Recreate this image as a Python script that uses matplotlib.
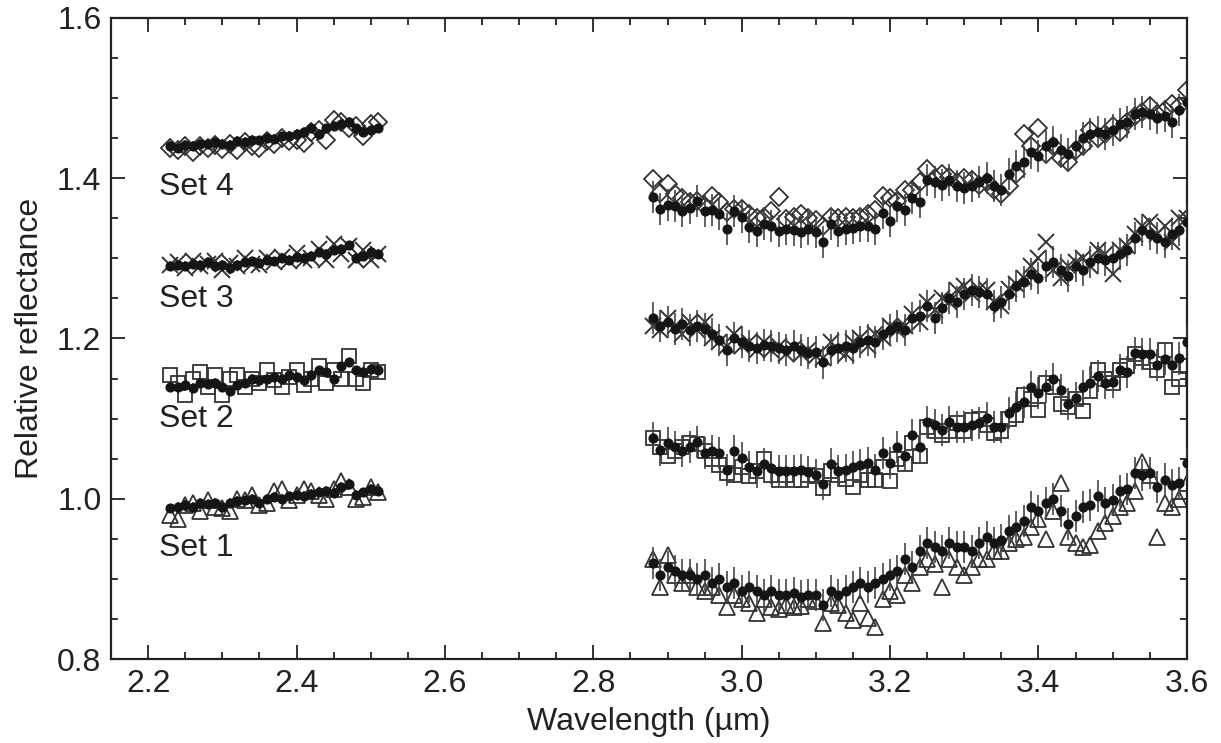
import numpy as np
import matplotlib
matplotlib.use("Agg")
import matplotlib.pyplot as plt

plt.rcParams['font.family'] = ['Liberation Sans', 'DejaVu Sans']

# wavelength grids (um)
wl_left = np.round(np.arange(2.23, 2.515, 0.01), 3)
wl_right = np.round(np.arange(2.88, 3.605, 0.01), 3)

# Set 1 -- filled dots (data) and open triangles
s1_dot_left = [0.988, 0.990, 0.992, 0.990, 0.995, 0.993, 0.995, 0.990, 0.995, 0.997,
               0.998, 1.000, 0.995, 1.000, 1.002, 1.000, 1.003, 1.005, 1.004, 1.006,
               1.008, 1.010, 1.007, 1.015, 1.018, 1.005, 1.008, 1.012, 1.010]
s1_open_left = [0.980, 0.975, 0.992, 0.995, 0.985, 0.998, 0.990, 0.988, 0.985, 1.000,
                0.998, 1.005, 0.992, 0.995, 1.010, 1.012, 0.998, 1.005, 1.012, 1.010,
                1.005, 1.000, 1.012, 1.022, 1.015, 1.000, 1.002, 1.015, 1.008]
s1_dot_right = [0.920, 0.905, 0.915, 0.910, 0.905, 0.905, 0.900, 0.905, 0.895, 0.900,
                0.890, 0.895, 0.885, 0.890, 0.885, 0.880, 0.885, 0.880, 0.880, 0.882,
                0.878, 0.880, 0.880, 0.868, 0.885, 0.880, 0.885, 0.890, 0.895, 0.890,
                0.895, 0.900, 0.905, 0.910, 0.925, 0.915, 0.935, 0.945, 0.940, 0.935,
                0.945, 0.940, 0.940, 0.935, 0.945, 0.952, 0.945, 0.948, 0.960, 0.965,
                0.972, 0.990, 0.985, 0.995, 1.000, 0.985, 0.968, 0.978, 0.990, 0.992,
                1.003, 0.995, 0.998, 1.010, 1.012, 1.032, 1.030, 1.032, 1.015, 1.024,
                1.017, 1.020, 1.045]
s1_open_right = [0.925, 0.890, 0.930, 0.905, 0.895, 0.905, 0.890, 0.885, 0.890, 0.880,
                 0.865, 0.880, 0.875, 0.870, 0.858, 0.875, 0.865, 0.862, 0.868, 0.865,
                 0.866, 0.875, 0.872, 0.845, 0.870, 0.868, 0.857, 0.849, 0.870, 0.851,
                 0.840, 0.875, 0.885, 0.880, 0.905, 0.895, 0.915, 0.925, 0.918, 0.890,
                 0.925, 0.915, 0.905, 0.915, 0.925, 0.925, 0.935, 0.935, 0.945, 0.950,
                 0.952, 0.965, 0.975, 0.950, 0.985, 1.020, 0.952, 0.945, 0.940, 0.942,
                 0.960, 0.970, 0.978, 0.990, 0.995, 1.010, 1.046, 1.030, 0.952, 0.995,
                 0.990, 1.000, 1.020]

# Set 2 -- open squares
s2_dot_left = [1.140, 1.140, 1.142, 1.138, 1.145, 1.143, 1.145, 1.140, 1.135, 1.142,
               1.145, 1.150, 1.148, 1.150, 1.152, 1.150, 1.155, 1.152, 1.148, 1.155,
               1.160, 1.158, 1.150, 1.165, 1.170, 1.160, 1.158, 1.162, 1.160]
s2_open_left = [1.155, 1.145, 1.130, 1.150, 1.158, 1.140, 1.155, 1.130, 1.150, 1.155,
                1.140, 1.150, 1.145, 1.160, 1.148, 1.140, 1.152, 1.160, 1.142, 1.150,
                1.165, 1.145, 1.160, 1.150, 1.178, 1.150, 1.145, 1.160, 1.158]
s2_dot_right = [1.076, 1.061, 1.070, 1.065, 1.059, 1.065, 1.071, 1.057, 1.060, 1.057,
                1.036, 1.059, 1.051, 1.039, 1.034, 1.043, 1.038, 1.034, 1.035, 1.034,
                1.036, 1.033, 1.030, 1.018, 1.043, 1.035, 1.036, 1.040, 1.042, 1.045,
                1.036, 1.057, 1.045, 1.065, 1.053, 1.080, 1.065, 1.096, 1.092, 1.086,
                1.096, 1.090, 1.090, 1.092, 1.095, 1.101, 1.090, 1.090, 1.107, 1.115,
                1.121, 1.139, 1.132, 1.140, 1.149, 1.136, 1.118, 1.126, 1.140, 1.145,
                1.153, 1.145, 1.146, 1.161, 1.158, 1.182, 1.180, 1.180, 1.167, 1.174,
                1.167, 1.175, 1.195]
s2_open_right = [1.076, 1.065, 1.053, 1.060, 1.065, 1.070, 1.068, 1.060, 1.050, 1.042,
                 1.032, 1.030, 1.040, 1.028, 1.035, 1.049, 1.030, 1.024, 1.030, 1.024,
                 1.024, 1.030, 1.028, 1.014, 1.035, 1.030, 1.025, 1.015, 1.030, 1.024,
                 1.024, 1.040, 1.022, 1.050, 1.043, 1.070, 1.053, 1.090, 1.085, 1.080,
                 1.085, 1.095, 1.085, 1.098, 1.100, 1.092, 1.082, 1.085, 1.100, 1.105,
                 1.130, 1.125, 1.111, 1.145, 1.140, 1.118, 1.115, 1.125, 1.109, 1.135,
                 1.161, 1.150, 1.145, 1.160, 1.165, 1.180, 1.175, 1.170, 1.160, 1.185,
                 1.140, 1.150, 1.165]

# Set 3 -- crosses
s3_dot_left = [1.290, 1.292, 1.290, 1.293, 1.292, 1.295, 1.290, 1.292, 1.288, 1.292,
               1.295, 1.296, 1.294, 1.298, 1.296, 1.300, 1.298, 1.302, 1.300, 1.303,
               1.308, 1.305, 1.310, 1.312, 1.316, 1.300, 1.303, 1.308, 1.305]
s3_open_left = [1.292, 1.295, 1.288, 1.296, 1.290, 1.293, 1.297, 1.286, 1.294, 1.290,
                1.300, 1.293, 1.292, 1.300, 1.295, 1.302, 1.296, 1.306, 1.298, 1.300,
                1.312, 1.298, 1.318, 1.305, 1.315, 1.298, 1.310, 1.298, 1.305]
s3_dot_right = [1.225, 1.215, 1.220, 1.212, 1.218, 1.210, 1.215, 1.212, 1.205, 1.198,
                1.185, 1.200, 1.195, 1.190, 1.188, 1.192, 1.190, 1.188, 1.185, 1.190,
                1.185, 1.182, 1.183, 1.170, 1.185, 1.188, 1.190, 1.188, 1.195, 1.198,
                1.195, 1.205, 1.210, 1.215, 1.210, 1.225, 1.228, 1.240, 1.225, 1.238,
                1.250, 1.245, 1.255, 1.260, 1.258, 1.255, 1.240, 1.245, 1.255, 1.265,
                1.270, 1.280, 1.275, 1.290, 1.295, 1.285, 1.278, 1.290, 1.285, 1.295,
                1.300, 1.298, 1.300, 1.305, 1.310, 1.325, 1.335, 1.330, 1.325, 1.320,
                1.330, 1.335, 1.345]
s3_open_right = [1.215, 1.210, 1.225, 1.215, 1.205, 1.220, 1.210, 1.220, 1.200, 1.195,
                 1.190, 1.205, 1.190, 1.195, 1.185, 1.195, 1.185, 1.190, 1.180, 1.188,
                 1.180, 1.185, 1.178, 1.175, 1.195, 1.185, 1.180, 1.195, 1.200, 1.190,
                 1.205, 1.200, 1.215, 1.210, 1.215, 1.230, 1.220, 1.245, 1.235, 1.250,
                 1.245, 1.260, 1.265, 1.255, 1.262, 1.260, 1.245, 1.240, 1.262, 1.268,
                 1.275, 1.290, 1.300, 1.320, 1.285, 1.275, 1.290, 1.295, 1.300, 1.290,
                 1.310, 1.305, 1.280, 1.310, 1.315, 1.330, 1.340, 1.345, 1.330, 1.340,
                 1.320, 1.350, 1.350]

# Set 4 -- diamonds
s4_dot_left = [1.440, 1.438, 1.441, 1.440, 1.443, 1.442, 1.445, 1.443, 1.441, 1.446,
               1.445, 1.448, 1.447, 1.450, 1.449, 1.452, 1.453, 1.455, 1.458, 1.462,
               1.455, 1.462, 1.465, 1.468, 1.470, 1.462, 1.458, 1.460, 1.462]
s4_open_left = [1.437, 1.435, 1.440, 1.432, 1.440, 1.438, 1.441, 1.436, 1.442, 1.435,
                1.445, 1.440, 1.438, 1.446, 1.442, 1.450, 1.446, 1.448, 1.444, 1.458,
                1.460, 1.448, 1.472, 1.470, 1.462, 1.465, 1.452, 1.468, 1.470]
s4_dot_right = [1.376, 1.361, 1.367, 1.365, 1.359, 1.363, 1.371, 1.359, 1.360, 1.355,
                1.336, 1.359, 1.351, 1.339, 1.334, 1.343, 1.340, 1.334, 1.336, 1.335,
                1.333, 1.337, 1.333, 1.320, 1.343, 1.334, 1.336, 1.338, 1.340, 1.340,
                1.336, 1.357, 1.346, 1.365, 1.360, 1.375, 1.370, 1.398, 1.395, 1.392,
                1.398, 1.390, 1.388, 1.390, 1.395, 1.400, 1.390, 1.385, 1.405, 1.415,
                1.420, 1.432, 1.428, 1.440, 1.445, 1.435, 1.430, 1.440, 1.450, 1.455,
                1.458, 1.455, 1.460, 1.468, 1.470, 1.480, 1.482, 1.480, 1.475, 1.478,
                1.470, 1.485, 1.495]
s4_open_right = [1.399, 1.382, 1.393, 1.380, 1.375, 1.370, 1.372, 1.365, 1.378, 1.370,
                 1.358, 1.362, 1.361, 1.355, 1.350, 1.352, 1.359, 1.376, 1.349, 1.352,
                 1.355, 1.350, 1.348, 1.340, 1.351, 1.350, 1.352, 1.350, 1.352, 1.355,
                 1.360, 1.378, 1.375, 1.372, 1.385, 1.385, 1.395, 1.412, 1.400, 1.405,
                 1.402, 1.395, 1.400, 1.398, 1.392, 1.395, 1.385, 1.380, 1.390, 1.405,
                 1.455, 1.440, 1.462, 1.430, 1.440, 1.425, 1.420, 1.435, 1.440, 1.460,
                 1.450, 1.455, 1.465, 1.458, 1.470, 1.478, 1.482, 1.490, 1.480, 1.485,
                 1.492, 1.490, 1.510]

err_left = 0.006
err_right = 0.02

set_labels = ['Set 1', 'Set 2', 'Set 3', 'Set 4']
label_y = [0.939, 1.099, 1.249, 1.389]

sets = [
    (s1_dot_left, s1_open_left, s1_dot_right, s1_open_right, '^', 11.5),
    (s2_dot_left, s2_open_left, s2_dot_right, s2_open_right, 's', 10.5),
    (s3_dot_left, s3_open_left, s3_dot_right, s3_open_right, 'x', 11.5),
    (s4_dot_left, s4_open_left, s4_dot_right, s4_open_right, 'D', 9.5),
]

ink = '#222222'
fs = 23

fig = plt.figure(figsize=(12.21, 7.43), dpi=100)
ax = fig.add_axes([0.091, 0.113, 0.881, 0.863])

for dl, ol, dr, orr, mk, ms in sets:
    for wl, d, o, e in ((wl_left, dl, ol, err_left), (wl_right, dr, orr, err_right)):
        if mk == 'x':
            ax.plot(wl, o, ls='none', marker=mk, ms=ms, mew=1.4, color='#333333', zorder=2)
        else:
            ax.plot(wl, o, ls='none', marker=mk, ms=ms, mfc='none', mec='#333333',
                    mew=1.3, zorder=2)
        ax.errorbar(wl, d, yerr=e, fmt='o', ms=6.3, color='#151515', ecolor='#444444',
                    elinewidth=1.2, capsize=0, zorder=3)

for lab, ly in zip(set_labels, label_y):
    ax.text(2.215, ly, lab, fontsize=fs, color=ink, va='center', ha='left')

ax.set_xlim(2.15, 3.6)
ax.set_ylim(0.8, 1.6)
ax.set_xticks(np.arange(2.2, 3.61, 0.2))
ax.set_xticks(np.arange(2.15, 3.61, 0.05), minor=True)
ax.set_yticks(np.arange(0.8, 1.61, 0.2))
ax.set_yticks(np.arange(0.8, 1.61, 0.05), minor=True)
ax.xaxis.set_major_formatter(matplotlib.ticker.FormatStrFormatter('%.1f'))
ax.yaxis.set_major_formatter(matplotlib.ticker.FormatStrFormatter('%.1f'))
ax.tick_params(which='both', direction='in', top=True, right=True, width=1.3,
               color=ink, labelsize=fs, labelcolor=ink)
ax.tick_params(which='major', length=10, pad=7)
ax.tick_params(which='minor', length=5)
for sp in ax.spines.values():
    sp.set_linewidth(1.6)
    sp.set_color(ink)

ax.set_xlabel('Wavelength (µm)', fontsize=fs, color=ink, labelpad=6)
ax.set_ylabel('Relative reflectance', fontsize=fs, color=ink, labelpad=9)

fig.savefig('out.png', dpi=100)
